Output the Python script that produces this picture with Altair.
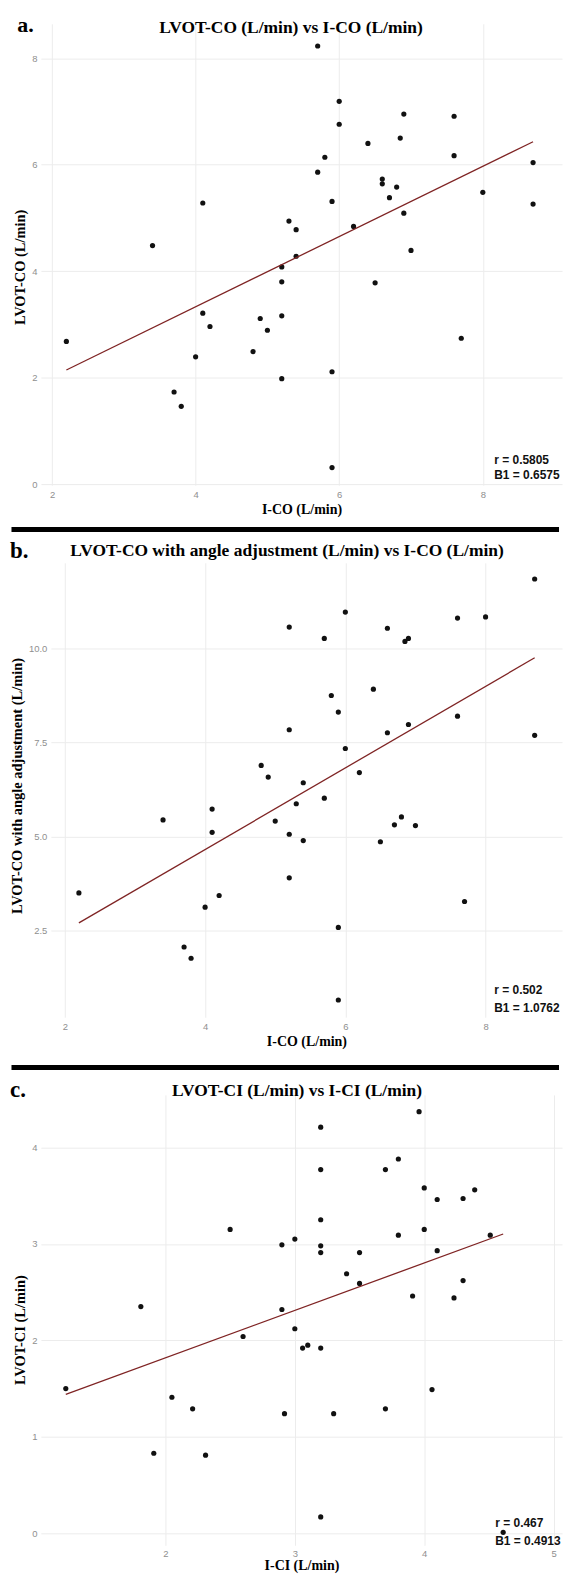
import altair as alt
import pandas as pd

# ---------------- data ----------------
# Panel a: LVOT-CO vs I-CO
a_ico = [5.7, 6.0, 6.0, 6.9, 7.6, 6.85, 6.4, 5.8, 7.6, 5.7, 8.7, 6.6, 6.6, 6.8, 6.7,
         8.0, 4.1, 5.9, 8.7, 6.9, 5.3, 5.4, 6.2, 3.4, 7.0, 5.4, 5.2, 5.2, 6.5, 4.1,
         4.9, 5.2, 4.2, 5.0, 2.2, 7.7, 4.8, 4.0, 5.9, 5.2, 3.7, 3.8, 5.9]
a_lvot = [8.23, 7.19, 6.76, 6.95, 6.91, 6.50, 6.40, 6.14, 6.17, 5.86, 6.04, 5.73, 5.64, 5.58, 5.38,
          5.48, 5.28, 5.31, 5.26, 5.09, 4.94, 4.78, 4.84, 4.48, 4.39, 4.28, 4.08, 3.80, 3.78, 3.21,
          3.11, 3.16, 2.96, 2.89, 2.68, 2.74, 2.49, 2.39, 2.11, 1.98, 1.73, 1.46, 0.31]

# Panel b: LVOT-CO with angle adjustment vs I-CO
b_ico = [8.7, 6.0, 7.6, 8.0, 5.2, 6.6, 5.7, 6.85, 6.9, 5.8, 6.4, 5.9, 7.6, 5.2, 6.9,
         6.6, 8.7, 6.0, 4.8, 4.9, 6.2, 5.4, 5.7, 5.3, 4.1, 3.4, 5.0, 6.8, 6.7, 7.0,
         4.1, 5.2, 5.4, 6.5, 5.2, 2.2, 4.2, 7.7, 4.0, 5.9, 3.7, 3.8, 5.9]
b_lvot = [11.85, 10.97, 10.81, 10.84, 10.57, 10.54, 10.27, 10.19, 10.27, 8.75, 8.92, 8.31, 8.20, 7.84, 7.98,
          7.76, 7.69, 7.34, 6.89, 6.58, 6.70, 6.43, 6.02, 5.87, 5.73, 5.44, 5.41, 5.52, 5.31, 5.29,
          5.11, 5.06, 4.89, 4.86, 3.90, 3.50, 3.43, 3.27, 3.12, 2.58, 2.06, 1.76, 0.65]

# Panel c: LVOT-CI vs I-CI
c_ici = [3.96, 3.2, 3.2, 3.7, 3.8, 4.0, 4.39, 4.1, 4.3, 3.2, 2.5, 4.0, 3.0, 2.9, 3.8,
         4.51, 3.2, 3.2, 3.5, 4.1, 3.4, 3.5, 4.3, 3.91, 4.23, 1.81, 2.9, 3.0, 2.6, 3.06,
         3.1, 3.2, 1.23, 4.06, 2.05, 2.21, 3.7, 2.92, 3.3, 1.91, 2.31, 3.2, 4.61]
c_lvot = [4.37, 4.21, 3.77, 3.77, 3.88, 3.58, 3.56, 3.46, 3.47, 3.25, 3.15, 3.15, 3.05, 2.99, 3.09,
          3.09, 2.98, 2.91, 2.91, 2.93, 2.69, 2.59, 2.62, 2.46, 2.44, 2.35, 2.32, 2.12, 2.04, 1.92,
          1.95, 1.92, 1.50, 1.49, 1.41, 1.29, 1.29, 1.24, 1.24, 0.83, 0.81, 0.17, 0.01]

letters = ["a.", "b.", "c."]
titles = ["LVOT-CO (L/min) vs I-CO (L/min)",
          "LVOT-CO with angle adjustment (L/min) vs I-CO (L/min)",
          "LVOT-CI (L/min) vs I-CI (L/min)"]
x_titles = ["I-CO (L/min)", "I-CO (L/min)", "I-CI (L/min)"]
y_titles = ["LVOT-CO (L/min)", "LVOT-CO with angle adjustment (L/min)", "LVOT-CI (L/min)"]
r_values = ["0.5805", "0.502", "0.467"]
b1_values = ["0.6575", "1.0762", "0.4913"]
x_ticks = [[2, 4, 6, 8], [2, 4, 6, 8], [2, 3, 4, 5]]
y_ticks = [[0, 2, 4, 6, 8], [2.5, 5.0, 7.5, 10.0], [0, 1, 2, 3, 4]]

# ---------------- layout / style ----------------
W = 523
SERIF = "Liberation Serif"
SANS = "Liberation Sans"
one = pd.DataFrame({"k": [0]})


def text_layer(txt, x, y, size, font, align="left", color="#000000"):
    return alt.Chart(one).mark_text(
        font=font, fontSize=size, fontWeight="bold", align=align,
        baseline="alphabetic", color=color
    ).encode(x=alt.value(x), y=alt.value(y), text=alt.value(txt))


def panel(i, xs, ys, xdom, xrng, ydom, h, yfmt, yoff, ytitle_y,
          title_x, title_y, letter_size, letter_x, letter_y, stat_x, stat_y1, stat_y2,
          sep_y=None, xlabel_pad=4, xtitle_pad=4):
    df = pd.DataFrame({"x": xs, "y": ys})
    xenc = alt.X("x:Q",
                 scale=alt.Scale(domain=xdom, range=xrng, nice=False, zero=False),
                 axis=alt.Axis(values=x_ticks[i], format="d", title=x_titles[i], titleFontSize=14,
                               labelPadding=xlabel_pad, titlePadding=xtitle_pad))
    yenc = alt.Y("y:Q",
                 scale=alt.Scale(domain=ydom, nice=False, zero=False),
                 axis=alt.Axis(values=y_ticks[i], format=yfmt, title=y_titles[i],
                               titleFontSize=14.5, titleY=ytitle_y, offset=yoff))
    pts = alt.Chart(df).mark_circle(size=27, color="#111111", opacity=1).encode(x=xenc, y=yenc)
    reg = alt.Chart(df).transform_regression("x", "y").mark_line(
        color="#7f2424", strokeWidth=1.3).encode(x="x:Q", y="y:Q")
    layers = [pts, reg,
              text_layer(titles[i], title_x, title_y, 17.5, SERIF, align="center"),
              text_layer(letters[i], letter_x, letter_y, letter_size, SERIF),
              text_layer("r = " + r_values[i], stat_x, stat_y1, 12, SANS, color="#111111"),
              text_layer("B1 = " + b1_values[i], stat_x, stat_y2, 12, SANS, color="#111111")]
    if sep_y is not None:
        sep = alt.Chart(one).mark_rule(color="#000000", strokeWidth=5, strokeCap="butt").encode(
            x=alt.value(-29.5), x2=alt.value(520), y=alt.value(sep_y))
        layers.append(sep)
    return alt.layer(*layers).properties(width=W, height=h)


pa = panel(0, a_ico, a_lvot, [1.845, 9.103], [0, W], [-0.019, 8.647], 463, "d", 0, 244,
           251, 9.3, 22, -23.6, 8, 455, 441.7, 456.7)
pb = panel(1, b_ico, b_lvot, [1.80, 9.09], [10, W], [0.193, 12.28], 456, ".1f", -10, 223.5,
           247, -6.5, 23, -31, -5, 455, 433, 450.7, sep_y=-33.5)
pc = panel(2, c_ici, c_lvot, [1.0375, 5.0646], [0, W], [-0.124, 4.544], 452, "d", 0, 235.5,
           257, 1, 23, -31, 2, 456, 433.3, 451.7, sep_y=-27.5, xlabel_pad=3, xtitle_pad=1)

chart = alt.vconcat(pa, pb, pc, spacing=78, bounds="flush").properties(
    padding={"left": 0, "top": 2, "right": 0, "bottom": 0},
    background="white"
).configure_view(
    stroke="transparent"
).configure_axis(
    domain=False, ticks=False, grid=True, gridColor="#ececec", gridWidth=1,
    labelFont=SANS, labelFontSize=9.5, labelColor="#8f8f8f", labelPadding=4,
    titleFont=SERIF, titleFontWeight="bold", titleColor="#000000", titlePadding=4
)

chart.save("out.html", embed_options={"renderer": "svg", "actions": False})
